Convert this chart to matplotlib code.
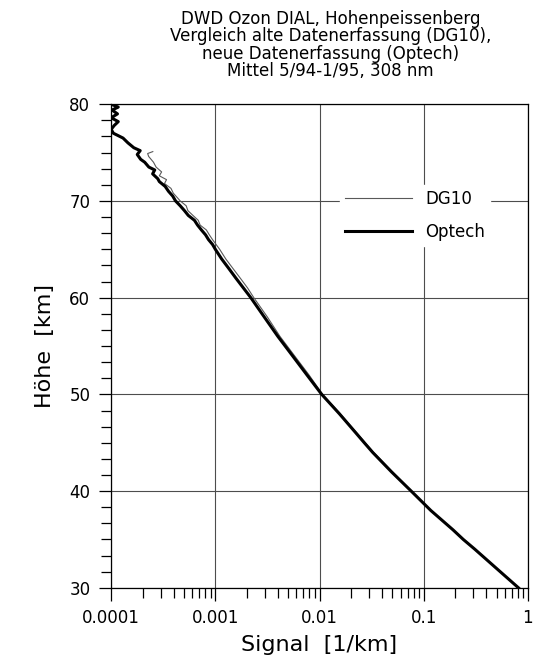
import matplotlib
matplotlib.use("Agg")
import matplotlib.pyplot as plt
from matplotlib.ticker import LogLocator, FuncFormatter, MultipleLocator, NullFormatter

# Optech (new acquisition), height [km] vs signal [1/km]
optech_h = [80.0, 79.7, 79.4, 79.0, 78.6, 78.2, 77.8, 77.4, 77.0, 76.5, 76.0, 75.5,
            75.2, 74.8, 74.3, 74.0, 73.5, 73.2, 72.8, 72.3, 72.0, 71.5, 71.0, 70.5,
            70.0, 69.5, 69.0, 68.5, 68.0, 67.5, 67.0, 66.5, 66.0, 65.5, 65.0, 64.0,
            63.0, 62.0, 61.0, 60.0, 58.0, 56.0, 55.0, 54.0, 52.0, 50.0, 48.0, 46.0,
            45.0, 44.0, 42.0, 40.0, 38.0, 36.0, 35.0, 34.0, 32.0, 30.0]
optech_s = [1.00e-4, 1.17e-4, 1.02e-4, 1.15e-4, 1.00e-4, 1.17e-4, 1.07e-4, 1.00e-4,
            1.05e-4, 1.30e-4, 1.45e-4, 1.65e-4, 1.90e-4, 1.78e-4, 1.92e-4, 2.10e-4,
            2.30e-4, 2.62e-4, 2.50e-4, 2.80e-4, 2.90e-4, 3.30e-4, 3.55e-4, 3.90e-4,
            4.15e-4, 4.60e-4, 5.05e-4, 5.50e-4, 6.30e-4, 6.75e-4, 7.35e-4, 8.05e-4,
            8.60e-4, 9.40e-4, 1.00e-3, 1.15e-3, 1.35e-3, 1.58e-3, 1.86e-3, 2.19e-3,
            2.95e-3, 3.98e-3, 4.68e-3, 5.50e-3, 7.59e-3, 1.05e-2, 1.55e-2, 2.24e-2,
            2.69e-2, 3.24e-2, 4.90e-2, 7.59e-2, 0.117, 0.191, 0.240, 0.309, 0.501, 0.813]

# DG10 (old acquisition)
dg10_h = [75.1, 74.9, 74.6, 74.0, 73.5, 73.0, 72.6, 72.2, 71.8, 71.3, 70.8, 70.3,
          70.0, 69.5, 69.0, 68.5, 68.0, 67.5, 67.0, 66.5, 66.0, 65.0, 64.0, 63.0,
          62.0, 61.0, 60.0, 58.0, 56.0, 54.0, 52.0, 50.0, 48.0, 46.0, 44.0, 42.0,
          40.0, 38.0, 36.0, 34.0, 32.0, 30.0]
dg10_s = [2.51e-4, 2.24e-4, 2.29e-4, 2.55e-4, 2.70e-4, 3.05e-4, 2.90e-4, 3.40e-4,
          3.25e-4, 3.75e-4, 3.95e-4, 4.35e-4, 4.60e-4, 5.25e-4, 5.45e-4, 6.10e-4,
          6.85e-4, 7.15e-4, 8.20e-4, 8.75e-4, 9.40e-4, 1.10e-3, 1.26e-3, 1.48e-3,
          1.74e-3, 2.04e-3, 2.34e-3, 3.16e-3, 4.17e-3, 5.75e-3, 7.94e-3, 1.07e-2,
          1.58e-2, 2.29e-2, 3.31e-2, 5.01e-2, 7.59e-2, 0.117, 0.191, 0.309, 0.501, 0.813]

title = ("DWD Ozon DIAL, Hohenpeissenberg\n"
         "Vergleich alte Datenerfassung (DG10),\n"
         "neue Datenerfassung (Optech)\n"
         "Mittel 5/94-1/95, 308 nm")

fig = plt.figure(figsize=(5.37, 6.68), dpi=100)
ax = fig.add_axes([0.207, 0.120, 0.776, 0.724])

ax.plot(dg10_s, dg10_h, color="0.35", lw=0.8, label="DG10")
ax.plot(optech_s, optech_h, color="black", lw=2.2, label="Optech")

ax.set_xscale("log")
ax.set_xlim(1e-4, 1)
ax.set_ylim(30, 80)
ax.xaxis.set_major_locator(LogLocator(base=10, numticks=10))
ax.xaxis.set_minor_locator(LogLocator(base=10, subs=range(2, 10), numticks=10))
ax.xaxis.set_major_formatter(FuncFormatter(lambda v, p: "%g" % v))
ax.xaxis.set_minor_formatter(NullFormatter())
ax.yaxis.set_major_locator(MultipleLocator(10))
ax.yaxis.set_minor_locator(MultipleLocator(10 / 6))

ax.grid(True, which="major", color="0.3", lw=0.8)
ax.tick_params(which="major", direction="out", length=9, width=0.9, labelsize=12, pad=6)
ax.tick_params(which="minor", direction="out", length=7, width=0.9)
for sp in ax.spines.values():
    sp.set_linewidth(0.9)

ax.set_xlabel("Signal  [1/km]", fontsize=16, labelpad=6)
ax.set_ylabel("Höhe  [km]", fontsize=16, labelpad=10)
fig.text(0.615, 0.985, title, ha="center", va="top", fontsize=12, linespacing=0.95)

leg = ax.legend(loc="upper left", bbox_to_anchor=(0.53, 0.85), frameon=True,
                fontsize=12, handlelength=4.0, handletextpad=0.8, labelspacing=0.9,
                borderpad=0.3, fancybox=False)
leg.get_frame().set_edgecolor("white")
leg.get_frame().set_facecolor("white")
leg.get_frame().set_alpha(1)

fig.savefig("out.png", dpi=100)
